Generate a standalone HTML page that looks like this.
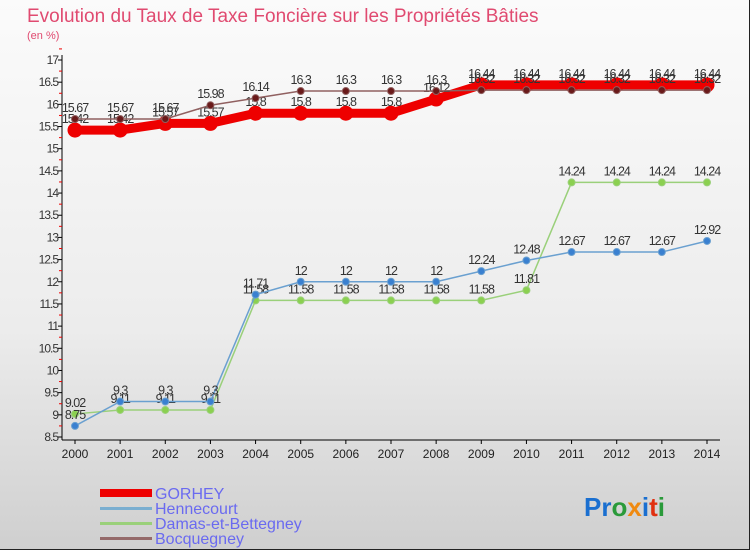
<!DOCTYPE html>
<html><head><meta charset="utf-8"><style>
body{margin:0;width:750px;height:550px;overflow:hidden;font-family:"Liberation Sans",sans-serif}
#wrap{position:relative;width:749px;height:549px;border-right:1px solid #222;border-bottom:1px solid #222;background:linear-gradient(#fbfbfb,#ececec 60%,#cfcfcf)}
</style></head><body>
<div id="wrap">
<svg id="c" width="750" height="550" style="position:absolute;left:0;top:0">
<text x="27" y="22" font-size="19" fill="#e04a70">Evolution du Taux de Taxe Foncière sur les Propriétés Bâties</text>
<text x="27" y="39" font-size="11" fill="#e04a70">(en %)</text>
<g id="axes"></g><g id="series"></g>
<g font-size="16" fill="#6a6af0">
<rect x="100" y="489" width="52" height="8" fill="#e00"/>
<text x="155" y="499">GORHEY</text>
<rect x="100" y="507" width="52" height="3" fill="#7aaed0"/>
<text x="155" y="514">Hennecourt</text>
<rect x="100" y="522" width="52" height="3" fill="#9ad07a"/>
<text x="155" y="529">Damas-et-Bettegney</text>
<rect x="100" y="537" width="52" height="3" fill="#946a6a"/>
<text x="155" y="544">Bocquegney</text>
</g>
<g font-size="26" font-weight="bold">
<text x="584" y="516"><tspan fill="#1a6fd0">Pr</tspan><tspan fill="#2a9a3a">o</tspan><tspan fill="#f08a10">x</tspan><tspan fill="#1a6fd0">i</tspan><tspan fill="#e03010">t</tspan><tspan fill="#2a9a3a">i</tspan></text>
</g>
</svg></div>
<script>
const years=[2000,2001,2002,2003,2004,2005,2006,2007,2008,2009,2010,2011,2012,2013,2014];
const yTicks=[8.5,9,9.5,10,10.5,11,11.5,12,12.5,13,13.5,14,14.5,15,15.5,16,16.5,17];
const gorhey=[15.42,15.42,15.57,15.57,15.8,15.8,15.8,15.8,16.12,16.44,16.44,16.44,16.44,16.44,16.44];
const hennecourt=[8.75,9.3,9.3,9.3,11.71,12,12,12,12,12.24,12.48,12.67,12.67,12.67,12.92];
const damas=[9.02,9.11,9.11,9.11,11.58,11.58,11.58,11.58,11.58,11.58,11.81,14.24,14.24,14.24,14.24];
const bocquegney=[15.67,15.67,15.67,15.98,16.14,16.3,16.3,16.3,16.3,16.32,16.32,16.32,16.32,16.32,16.32];
const NS="http://www.w3.org/2000/svg";
const x=i=>75+i*(707-75)/(years.length-1);
const y=v=>437-(v-8.5)*(437-60)/(17-8.5);
function el(t,a,p){const e=document.createElementNS(NS,t);for(const k in a)e.setAttribute(k,a[k]);p.appendChild(e);return e;}
const ax=document.getElementById('axes');
const yl=el('line',{x1:62,y1:55,x2:62,y2:440,stroke:'#000'},ax);


const xl=el('line',{x1:62,y1:440,x2:720,y2:440,stroke:'#000'},ax);


yTicks.forEach(v=>{
 el('line',{x1:58,x2:62,y1:y(v),y2:y(v),stroke:'#000'},ax);
 el('line',{x1:59,x2:62,y1:y(v+0.25),y2:y(v+0.25),stroke:'#e00'},ax);
 const t=el('text',{x:58,y:y(v)+4,'font-size':12,'text-anchor':'end',fill:'#333','letter-spacing':'-1'},ax);
 t.textContent=v;
 
 
});
years.forEach((yr,i)=>{
 el('line',{x1:x(i),x2:x(i),y1:440,y2:444,stroke:'#000'},ax);
 const t=el('text',{x:x(i),y:458,'font-size':12,'text-anchor':'middle',fill:'#222'},ax);
 t.textContent=yr;
 
 
});
const sg=document.getElementById('series');
function draw(data,name,color,lw,r,dot,lab,dy){
 const g=el('g',{},sg);
 
 
 const p=el('polyline',{points:data.map((v,i)=>x(i)+','+y(v)).join(' '),fill:'none',stroke:color,'stroke-width':lw},g);
 
 
 data.forEach((v,i)=>{
  const c=el('circle',{cx:x(i),cy:y(v),r:r,fill:dot,stroke:color,'stroke-width':1},g);
  
  
  const t=el('text',{x:x(i),y:y(v)+dy,'font-size':12.5,'text-anchor':'middle',fill:lab,'letter-spacing':'-1'},g);
  t.textContent=v;
  
  
 });
}
draw(damas,'damas','#9ad07a',1.5,3.5,'#8bd050','#333',-7);
draw(hennecourt,'hennecourt','#6aa0d0',1.5,3.5,'#3a80d0','#333',-7);
draw(gorhey,'gorhey','#ee0000',9,7,'#ee0000','#333',-7);
draw(bocquegney,'bocquegney','#906060',1.5,3.5,'#6a1a1a','#333',-7);
</script>
</body></html>
